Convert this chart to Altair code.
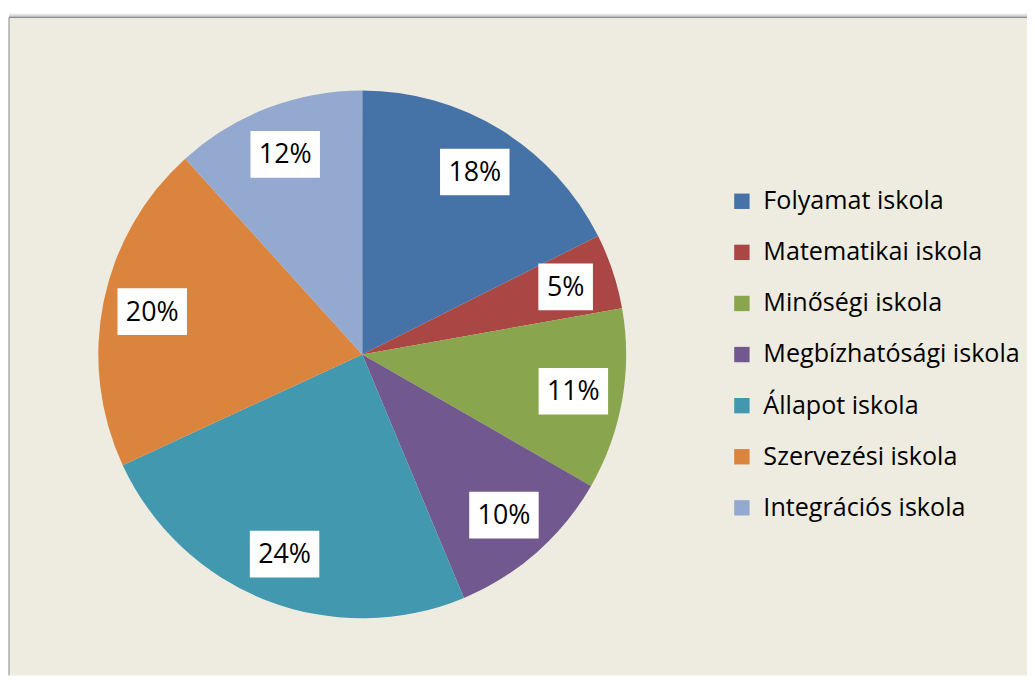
import altair as alt
import pandas as pd

names = ["Folyamat iskola", "Matematikai iskola", "Minőségi iskola",
         "Megbízhatósági iskola", "Állapot iskola", "Szervezési iskola",
         "Integrációs iskola"]
values = [17.6, 4.6, 11.1, 10.4, 24.4, 20.2, 11.7]
labels = ["18%", "5%", "11%", "10%", "24%", "20%", "12%"]
colors = ["#4572A7", "#AA4643", "#89A54E", "#71588F", "#4198AF", "#DB843D", "#93A9CF"]

df = pd.DataFrame({"idx": list(range(len(names))), "name": names,
                   "value": values, "label": labels})

W, H = 1026, 663
CX, CY, R = 356, 339.5, 266
RL = 216
FONT = "Open Sans"

base = alt.Chart(df)

pie = base.mark_arc(radius=R).encode(
    theta=alt.Theta("value:Q", stack=True),
    order=alt.Order("idx:Q", sort="ascending"),
    color=alt.Color("name:N", sort=names,
                    scale=alt.Scale(domain=names, range=colors),
                    legend=alt.Legend(title=None, orient="none", legendX=726, legendY=172.5,
                                      symbolType="square", symbolSize=240,
                                      symbolStrokeWidth=0, labelFont=FONT,
                                      labelFontSize=25.3, labelColor="#000000",
                                      labelOffset=9, rowPadding=25.5, padding=0,
                                      labelLimit=400)),
    x=alt.value(CX), y=alt.value(CY),
)

lab = base.transform_joinaggregate(total="sum(value)").transform_window(
    cum="sum(value)", sort=[alt.SortField("idx")], frame=[None, 0]
).transform_calculate(
    ang="2*PI*(datum.cum - datum.value/2)/datum.total"
).transform_calculate(
    px=f"{CX} + {RL}*sin(datum.ang)",
    py=f"{CY} - {RL}*cos(datum.ang)",
    bw="15*length(datum.label) + 25",
).transform_calculate(
    x0="datum.px - datum.bw/2", x1="datum.px + datum.bw/2",
    y0="datum.py - 23.5", y1="datum.py + 23.5",
)

boxes = lab.mark_rect(color="white").encode(
    x=alt.X("x0:Q", scale=None), x2="x1:Q",
    y=alt.Y("y0:Q", scale=None), y2="y1:Q",
)
texts = lab.mark_text(font=FONT, fontSize=27, color="#000000",
                      align="center", baseline="middle", dy=1).encode(
    x=alt.X("px:Q", scale=None), y=alt.Y("py:Q", scale=None), text="label:N"
)

dummy = alt.Data(values=[{"a": 1}])
frame_layers = []
for off, col in [(-4, "#f4f4f4"), (-3, "#e6e6e6"), (-2, "#d4d4d4"), (-1, "#b8b8b8"), (0, "#8a8a8a")]:
    frame_layers.append(alt.Chart(dummy).mark_rule(color=col, strokeWidth=1).encode(
        x=alt.value(0), x2=alt.value(W), y=alt.value(off)))
frame_layers.append(alt.Chart(dummy).mark_rule(color="#8a8a8a", strokeWidth=1).encode(
    x=alt.value(0), y=alt.value(0), y2=alt.value(H)))

chart = alt.layer(pie, boxes, texts, *frame_layers).properties(
    width=W, height=H,
    padding={"left": 1, "top": 7, "right": 0, "bottom": 0},
    autosize=alt.AutoSizeParams(type="none"),
    background="#ffffff",
).configure_view(fill="#EEECE1", stroke=None)

chart.save("out.html", embed_options={"renderer": "svg", "actions": False})
